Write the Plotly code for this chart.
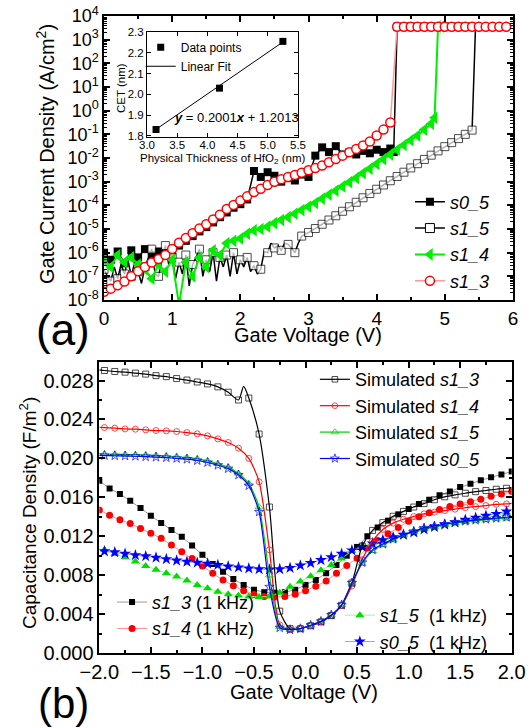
import numpy as np
import plotly.graph_objects as go

FONT = "Liberation Sans, Arial, sans-serif"

# ================= Panel (a): gate current density (exponent of J, A/cm^2) =================
V_a = [round(0.1 * i, 2) for i in range(43)]              # 0.0 .. 4.2
V_top_s0_5 = [round(4.3 + 0.1 * i, 2) for i in range(12)]  # 4.3 .. 5.4
V_top_s1_3 = [round(4.3 + 0.1 * i, 2) for i in range(17)]  # 4.3 .. 5.9

s0_5_log = [-6.0, -6.3, -5.95, -6.45, -5.9, -6.2, -5.85, -6.1, -5.95, -6.05,
            -5.95, -5.7, -5.5, -5.3, -5.1, -4.92, -4.72, -4.5, -4.3, -4.1,
            -3.95, -3.75, -2.55, -2.8, -2.6, -2.75, -3.0, -2.85, -2.95, -2.7,
            -2.8, -1.9, -1.55, -1.75, -1.5, -1.85, -1.75, -1.85, -1.7, -1.8,
            -1.65, -1.75, -1.6]
s0_5_tail_V = [4.25]
s0_5_tail_log = [-1.75]
s0_5_top_log = [3.55, 3.55, 3.55, 3.55, 3.55, 3.55, 3.55, 3.55, 3.55, 3.55, 3.55, 3.55]

s1_3_log = [-7.65, -7.52, -7.38, -7.22, -7.0, -6.78, -6.6, -6.42, -6.27, -6.1,
            -5.84, -5.58, -5.38, -5.18, -4.98, -4.8, -4.6, -4.4, -4.15, -3.98,
            -3.8, -3.62, -3.44, -3.3, -3.14, -3.0, -2.9, -2.8, -2.72, -2.62,
            -2.52, -2.42, -2.32, -2.18, -2.04, -1.9, -1.76, -1.62, -1.47, -1.3,
            -1.05, -0.8, -0.5]
s1_3_top_log = [3.55, 3.55, 3.55, 3.55, 3.55, 3.55, 3.55, 3.55, 3.55, 3.55,
                3.55, 3.55, 3.55, 3.55, 3.55, 3.55, 3.55]

V_s1_4 = [round(0.1 * i, 2) for i in range(49)] + [4.85, 4.9, 4.95]
s1_4_log = [-6.3, -6.6, -6.1, -6.4, -6.2, -6.5, -6.7, -7.1, -6.5, -6.8,
            -6.3, -8.2, -6.4, -7.0, -6.2, -6.6, -5.9, -6.1, -5.6, -5.5,
            -5.4, -5.2, -5.05, -5.0, -4.9, -4.75, -4.62, -4.5, -4.35, -4.2,
            -4.05, -3.9, -3.72, -3.55, -3.38, -3.2, -3.02, -2.84, -2.64, -2.45,
            -2.25, -2.05, -1.85, -1.65, -1.45, -1.25, -1.05, -0.8, -0.55,
            -0.3, 3.55, 3.55]

V_s1_5 = ([round(0.05 * i, 2) for i in range(58)]
          + [round(2.9 + 0.1 * i, 2) for i in range(26)] + [5.45])
s1_5_log = [-6.7, -7.0, -7.2, -6.6, -7.1, -6.5, -6.9, -6.3, -7.0, -6.4,
            -6.8, -7.3, -6.6, -6.2, -5.85, -6.9, -7.0, -6.3, -5.7, -6.5,
            -6.2, -7.1, -6.4, -6.9, -6.1, -7.4, -6.5, -6.2, -5.85, -7.0,
            -6.3, -6.8, -6.0, -7.2, -6.2, -6.6, -6.1, -7.0, -6.0, -6.9,
            -6.3, -6.6, -6.2, -6.8, -6.55, -6.9, -6.7, -5.95, -6.0, -5.6,
            -5.8, -5.7, -5.9, -5.6, -5.65, -5.8, -6.0, -5.6,
            -5.3, -5.15, -4.98, -4.8, -4.62, -4.44, -4.25, -4.06, -3.87, -3.68,
            -3.5, -3.32, -3.14, -2.96, -2.78, -2.6, -2.42, -2.24, -2.06, -1.88,
            -1.7, -1.52, -1.35, -1.18, -1.0, -0.82,
            3.55]

# y tick labels of panel (a)
a_tick_exp = [-8, -7, -6, -5, -4, -3, -2, -1, 0, 1, 2, 3, 4]
a_tick_text = ["10<sup>-8</sup>", "10<sup>-7</sup>", "10<sup>-6</sup>", "10<sup>-5</sup>",
               "10<sup>-4</sup>", "10<sup>-3</sup>", "10<sup>-2</sup>", "10<sup>-1</sup>",
               "10<sup>0</sup>", "10<sup>1</sup>", "10<sup>2</sup>", "10<sup>3</sup>",
               "10<sup>4</sup>"]

# inset: CET vs physical thickness
inset_thk = [3.15, 4.2, 5.25]
inset_cet = [1.831, 2.03, 2.255]
fit_thk = [3.15, 5.25]
fit_cet = [1.832, 2.252]

# ================= Panel (b): capacitance density (units of 1e-3 F/m^2) =================
V_meas = [round(-2.0 + 0.1 * i, 2) for i in range(41)]
V_meas_h = [round(-1.95 + 0.1 * i, 2) for i in range(40)]
V_sim = [-2.0] + V_meas_h + [2.0]
V_sim13 = [-2.0] + V_meas_h[:14] + [-0.6] + V_meas_h[14:] + [2.0]

sim_s1_3 = [29.1, 29.03, 28.93, 28.86, 28.76, 28.66, 28.5, 28.4, 28.2, 28.05, 27.85,
            27.65, 27.35, 26.8, 26.0, 27.4, 26.2, 22.5, 15.0, 4.3, 2.5, 2.5,
            2.8, 3.2, 3.85, 4.9, 7.2, 11.0, 12.6, 13.4, 14.05, 14.55, 15.0,
            15.35, 15.75, 16.05, 16.25, 16.42, 16.58, 16.7, 16.83, 16.93, 17.0]
sim_s1_4 = [23.2, 23.17, 23.1, 23.03, 23.0, 22.93, 22.86, 22.83, 22.76, 22.65, 22.52,
            22.31, 22.0, 21.63, 21.05, 20.0, 17.6, 10.6, 2.9, 2.4, 2.5,
            2.8, 3.2, 3.85, 4.9, 6.9, 9.6, 11.5, 12.7, 13.35, 13.75,
            14.02, 14.3, 14.47, 14.63, 14.78, 14.94, 15.04, 15.15, 15.28, 15.32, 15.38]
sim_s1_5 = [20.5, 20.45, 20.42, 20.4, 20.38, 20.35, 20.3, 20.25, 20.18, 20.1, 19.95,
            19.75, 19.45, 19.1, 18.45, 17.4, 15.0, 8.0, 2.7, 2.4, 2.5,
            2.85, 3.25, 3.9, 4.95, 7.2, 9.2, 10.5, 11.1, 11.6, 12.1,
            12.45, 12.8, 13.0, 13.2, 13.35, 13.5, 13.6, 13.7, 13.78, 13.85, 13.9]
sim_s0_5 = [20.3, 20.3, 20.27, 20.25, 20.22, 20.18, 20.13, 20.08, 20.0, 19.92, 19.78,
            19.58, 19.3, 18.95, 18.3, 17.2, 14.5, 6.8, 2.6, 2.4, 2.5,
            2.85, 3.25, 3.9, 4.95, 7.2, 9.3, 10.6, 11.2, 11.7, 12.15,
            12.5, 12.85, 13.05, 13.25, 13.4, 13.55, 13.65, 13.75, 13.85, 13.95, 14.0]

meas_s1_3 = [17.7, 16.9, 16.35, 15.65, 14.9, 14.1, 13.35, 12.65, 11.95, 11.05,
             10.1, 9.15, 8.35, 7.6, 7.0, 6.5, 6.25, 6.2, 6.25, 6.5,
             7.0, 7.5, 8.2, 9.05, 10.0, 10.9, 12.0, 12.9, 13.6, 14.25,
             14.8, 15.3, 15.75, 16.2, 16.6, 17.05, 17.4, 17.75, 18.05, 18.35, 18.65]
meas_s1_4 = [14.7, 14.15, 13.7, 13.3, 12.8, 12.3, 11.8, 11.1, 10.4, 9.7,
             8.95, 8.2, 7.5, 6.9, 6.4, 6.0, 5.8, 5.75, 5.8, 6.05,
             6.4, 6.85, 7.4, 8.2, 9.0, 9.75, 10.8, 11.55, 12.25, 12.9,
             13.55, 14.0, 14.4, 14.75, 15.05, 15.3, 15.55, 15.8, 16.1, 16.35, 16.6]
meas_s1_5 = [10.6, 10.2, 9.85, 9.4, 8.95, 8.55, 8.2, 7.85, 7.45, 7.0,
             6.65, 6.3, 6.05, 5.9, 5.8, 5.75, 5.8, 6.2, 6.8, 7.35,
             7.9, 8.5, 9.05, 9.7, 10.5, 11.0, 11.3, 11.65, 11.95, 12.2,
             12.5, 12.75, 13.0, 13.2, 13.35, 13.55, 13.75, 13.9, 14.1, 14.45]
meas_s0_5 = [10.45, 10.35, 10.2, 10.05, 9.95, 9.8, 9.65, 9.5, 9.38, 9.28,
             9.18, 9.05, 8.9, 8.8, 8.7, 8.62, 8.58, 8.62, 8.75, 9.0,
             9.25, 9.55, 9.85, 10.2, 10.55, 10.9, 11.25, 11.6, 11.9, 12.15,
             12.4, 12.7, 12.95, 13.2, 13.45, 13.7, 13.9, 14.1, 14.3, 14.55]


def J(logs):
    return [10 ** v for v in logs]


def mF(vals):
    return [v * 1e-3 for v in vals]


fig = go.Figure()
GREEN = "#00ee00"

# ---- panel (a) traces ----
fig.add_trace(go.Scatter(x=V_a + s0_5_tail_V + V_top_s0_5,
                         y=J(s0_5_log + s0_5_tail_log + s0_5_top_log),
                         mode="lines+markers", line=dict(color="black", width=1.5),
                         marker=dict(symbol="square", size=8, color="black"),
                         name="<i>s0_5</i>", legend="legend", xaxis="x", yaxis="y"))
sizes_s1_5 = [8 if abs(v * 10 - round(v * 10)) < 1e-6 else 0 for v in V_s1_5]
fig.add_trace(go.Scatter(x=V_s1_5, y=J(s1_5_log), mode="lines+markers",
                         line=dict(color="black", width=1.5),
                         marker=dict(symbol="square", size=sizes_s1_5, color="white",
                                     line=dict(color="black", width=1)),
                         showlegend=False, xaxis="x", yaxis="y"))
fig.add_trace(go.Scatter(x=[None], y=[None], mode="lines+markers",
                         line=dict(color="black", width=1.5),
                         marker=dict(symbol="square", size=9, color="white",
                                     line=dict(color="black", width=1)),
                         name="<i>s1_5</i>", legend="legend", xaxis="x", yaxis="y"))
fig.add_trace(go.Scatter(x=V_s1_4, y=J(s1_4_log), mode="lines+markers",
                         line=dict(color=GREEN, width=2),
                         marker=dict(symbol="triangle-left", size=11, color=GREEN),
                         name="<i>s1_4</i>", legend="legend", xaxis="x", yaxis="y"))
fig.add_trace(go.Scatter(x=V_a + V_top_s1_3, y=J(s1_3_log + s1_3_top_log),
                         mode="lines+markers", line=dict(color="#ff9a9a", width=1.5),
                         marker=dict(symbol="circle", size=9, color="white",
                                     line=dict(color="red", width=1.5)),
                         name="<i>s1_3</i>", legend="legend", xaxis="x", yaxis="y"))

# ---- inset ----
fig.add_trace(go.Scatter(x=inset_thk, y=inset_cet, mode="markers",
                         marker=dict(symbol="square", size=7, color="black"),
                         name="Data points", legend="legend2", xaxis="x3", yaxis="y3"))
fig.add_trace(go.Scatter(x=fit_thk, y=fit_cet, mode="lines",
                         line=dict(color="black", width=1),
                         name="Linear Fit", legend="legend2", xaxis="x3", yaxis="y3"))

# ---- panel (b) measured ----
meas = [
    ("<i>s1_3</i> (1 kHz)", V_meas, meas_s1_3, "#999999", "black", "square", 6, "legend4"),
    ("<i>s1_4</i> (1 kHz)", V_meas, meas_s1_4, "#ff9090", "red", "circle", 7, "legend4"),
    ("<i>s1_5</i>  (1 kHz)", V_meas_h, meas_s1_5, "#90ff90", "#00dd00", "triangle-up", 8, "legend5"),
    ("<i>s0_5</i>  (1 kHz)", V_meas_h, meas_s0_5, "#9a9aff", "blue", "star", 9, "legend5"),
]
for name, xs, ys, lc, mc, sym, sz, lg in meas:
    fig.add_trace(go.Scatter(x=xs, y=mF(ys), mode="lines+markers",
                             line=dict(color=lc, width=1),
                             marker=dict(symbol=sym, size=sz, color=mc),
                             name=name, legend=lg, xaxis="x2", yaxis="y2"))


# ---- panel (b) simulated ----
def sim_sizes(xs, s):
    return [s if (x in V_meas_h) else 0 for x in xs]


sims = [
    ("Simulated <i>s1_3</i>", V_sim13, sim_s1_3, "black", "square-open", 6),
    ("Simulated <i>s1_4</i>", V_sim, sim_s1_4, "red", "circle-open", 6),
    ("Simulated <i>s1_5</i>", V_sim, sim_s1_5, "#00cc00", "triangle-up-open", 7),
    ("Simulated <i>s0_5</i>", V_sim, sim_s0_5, "blue", "star-open", 7),
]
for name, xs, ys, c, sym, sz in sims:
    fig.add_trace(go.Scatter(x=xs, y=mF(ys), mode="lines+markers",
                             line=dict(color=c, width=1.2, shape="spline", smoothing=0.7),
                             marker=dict(symbol=sym, size=sim_sizes(xs, sz), color=c,
                                         line=dict(width=1)),
                             name=name, legend="legend3", xaxis="x2", yaxis="y2"))

axis_common = dict(showline=True, linewidth=1.5, linecolor="black", mirror="allticks",
                   ticks="inside", ticklen=6, tickwidth=1.5, tickcolor="black",
                   showgrid=False, zeroline=False, automargin=False,
                   ticklabeloverflow="allow")
inset_axis = {**axis_common, "linewidth": 1, "ticklen": 4, "tickwidth": 1}

log_minor = [k * 10.0 ** n for n in range(-8, 4) for k in range(2, 10)]

fig.update_layout(
    template="none",
    width=531, height=728, autosize=False,
    margin=dict(l=0, r=0, t=0, b=0, pad=0),
    paper_bgcolor="white", plot_bgcolor="white",
    font=dict(family=FONT, color="black"),
    xaxis=dict(domain=[0.1959, 0.9661], anchor="y", range=[0, 6], dtick=1,
               tickfont=dict(size=19),
               minor=dict(ticks="inside", dtick=0.5, ticklen=3, tickwidth=1.5), **axis_common),
    yaxis=dict(domain=[0.5879, 0.978], anchor="x", type="log", range=[-8, 4],
               tickmode="array", tickvals=[10.0 ** e for e in a_tick_exp], ticktext=a_tick_text,
               tickfont=dict(size=18),
               minor=dict(ticks="inside", tickmode="array", tickvals=log_minor,
                          ticklen=3, tickwidth=1), **axis_common),
    xaxis2=dict(domain=[0.187, 0.9637], anchor="y2", range=[-2.0, 2.0], dtick=0.5,
                tickformat=".1f", tickfont=dict(size=20),
                minor=dict(ticks="inside", dtick=0.25, ticklen=3, tickwidth=1.5), **axis_common),
    yaxis2=dict(domain=[0.103, 0.5027], anchor="x2", range=[0, 0.0299], dtick=0.004,
                tickformat=".3f", tickfont=dict(size=20),
                minor=dict(ticks="inside", dtick=0.002, ticklen=3, tickwidth=1.5), **axis_common),
    xaxis3=dict(domain=[0.2768, 0.5612], anchor="y3", range=[3.0, 5.5], dtick=0.5,
                tickformat=".1f", tickfont=dict(size=11.5), ticklabelstandoff=-3, **inset_axis),
    yaxis3=dict(domain=[0.8118, 0.956], anchor="x3", range=[1.795, 2.3], dtick=0.1,
                tick0=1.8, tickformat=".1f", tickfont=dict(size=11.5), **inset_axis),
    legend=dict(x=0.772, y=0.748, xanchor="left", yanchor="top", font=dict(size=18),
                bgcolor="rgba(0,0,0,0)", borderwidth=0),
    legend2=dict(x=0.265, y=0.955, xanchor="left", yanchor="top", font=dict(size=12),
                 bgcolor="rgba(0,0,0,0)", borderwidth=0),
    legend3=dict(x=0.593, y=0.504, xanchor="left", yanchor="top", font=dict(size=18),
                 bgcolor="rgba(0,0,0,0)", borderwidth=0),
    legend4=dict(x=0.211, y=0.198, xanchor="left", yanchor="top", font=dict(size=18),
                 bgcolor="rgba(0,0,0,0)", borderwidth=0),
    legend5=dict(x=0.640, y=0.18, xanchor="left", yanchor="top", font=dict(size=18),
                 bgcolor="rgba(0,0,0,0)", borderwidth=0),
)

ann = [
    dict(text="Gate Current Density (A/cm<sup>2</sup>)", x=45 / 531, y=1 - 154 / 728,
         textangle=-90, font=dict(size=20)),
    dict(text="Gate Voltage (V)", x=308 / 531, y=1 - 335 / 728, font=dict(size=20)),
    dict(text="Capacitance Density (F/m<sup>2</sup>)", x=28 / 531, y=1 - 513 / 728,
         textangle=-90, font=dict(size=19)),
    dict(text="Gate Voltage (V)", x=304 / 531, y=1 - 692 / 728, font=dict(size=20)),
    dict(text="Physical Thickness of HfO<sub>2</sub> (nm)", x=223 / 531, y=1 - 159 / 728,
         font=dict(size=11.5)),
    dict(text="CET (nm)", x=121 / 531, y=1 - 88 / 728, textangle=-90, font=dict(size=11.5)),
    dict(text="<b><i>y</i></b> = 0.2001<b><i>x</i></b> + 1.2013", x=236 / 531, y=1 - 118 / 728,
         font=dict(size=13)),
    dict(text="(a)", x=63 / 531, y=1 - 330 / 728, font=dict(size=44)),
    dict(text="(b)", x=63 / 531, y=1 - 703 / 728, font=dict(size=42)),
]
for a in ann:
    fig.add_annotation(xref="paper", yref="paper", showarrow=False,
                       xanchor="center", yanchor="middle", **a)

fig.write_html("out.html", config={"displayModeBar": False},
               post_script="document.body.style.margin='0';document.body.style.overflow='hidden';")
